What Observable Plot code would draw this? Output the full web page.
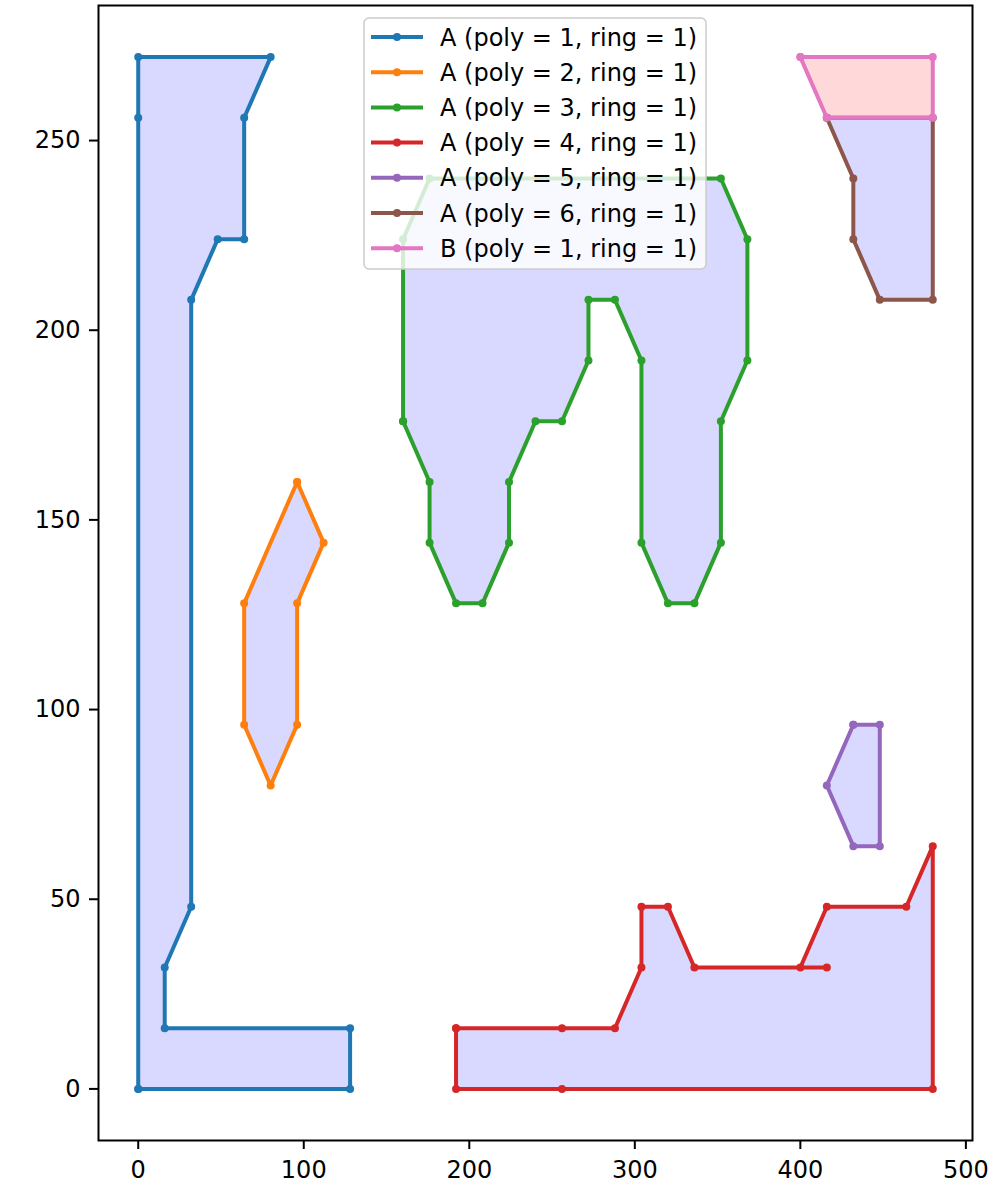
<!DOCTYPE html>
<html><head><meta charset="utf-8">
<script src="https://cdn.jsdelivr.net/npm/d3@7"></script>
<script src="https://cdn.jsdelivr.net/npm/@observablehq/plot@0.6"></script>
<style>
body{margin:0;background:#fff;}
#wrap{position:relative;width:993px;height:1188px;font-family:"DejaVu Sans";}
#legend{position:absolute;left:363px;top:17px;}
</style>
</head><body><div id="wrap"></div>
<script>
// Series labels and colours
const labels = ["A (poly = 1, ring = 1)","A (poly = 2, ring = 1)","A (poly = 3, ring = 1)","A (poly = 4, ring = 1)","A (poly = 5, ring = 1)","A (poly = 6, ring = 1)","B (poly = 1, ring = 1)"];
const groups = ["A","A","A","A","A","A","B"];
const lineColors = ["#1f77b4","#ff7f0e","#2ca02c","#d62728","#9467bd","#8c564b","#e377c2"];
const groupFill = {A: "rgba(0,0,255,0.15)", B: "rgba(255,0,0,0.15)"};

// Ring vertices [x, y]
const ringA1 = [[0,0],[128,0],[128,16],[16,16],[16,32],[32,48],[32,208],[48,224],[64,224],[64,256],[80,272],[0,272],[0,256],[0,0]];
const ringA2 = [[96,160],[112,144],[96,128],[96,96],[80,80],[64,96],[64,128],[96,160]];
const ringA3 = [[160,176],[176,160],[176,144],[192,128],[208,128],[224,144],[224,160],[240,176],[256,176],[272,192],[272,208],[288,208],[304,192],[304,144],[320,128],[336,128],[352,144],[352,176],[368,192],[368,224],[352,240],[176,240],[160,224],[160,176]];
const ringA4 = [[192,16],[256,16],[288,16],[304,32],[304,48],[320,48],[336,32],[416,32],[400,32],[416,48],[464,48],[480,64],[480,0],[256,0],[192,0],[192,16]];
const ringA5 = [[432,96],[448,96],[448,64],[432,64],[416,80],[432,96]];
const ringA6 = [[416,256],[432,240],[432,224],[448,208],[480,208],[480,256],[416,256]];
const ringB1 = [[400,272],[480,272],[480,256],[416,256],[400,272]];
const rings = [ringA1, ringA2, ringA3, ringA4, ringA5, ringA6, ringB1];

const xTicks = [0,100,200,300,400,500];
const yTicks = [0,50,100,150,200,250];

const marks = [];
rings.forEach((pts, i) => {
  marks.push(Plot.line(pts, {x: d => d[0], y: d => d[1], fill: groupFill[groups[i]], stroke: "none"}));
});
rings.forEach((pts, i) => {
  marks.push(Plot.line(pts, {x: d => d[0], y: d => d[1], stroke: lineColors[i], strokeWidth: 4, strokeLinejoin: "round"}));
  marks.push(Plot.dot(pts, {x: d => d[0], y: d => d[1], r: 4, fill: lineColors[i], stroke: "none"}));
});
marks.push(Plot.frame({stroke: "black", strokeWidth: 2}));
marks.push(Plot.axisX(xTicks, {tickSize: 9, tickPadding: 11, strokeWidth: 2, label: null, fontSize: 24}));
marks.push(Plot.axisY(yTicks, {tickSize: 9, tickPadding: 9, strokeWidth: 2, label: null, fontSize: 24}));

const chart = Plot.plot({
  width: 993, height: 1188,
  marginLeft: 98, marginRight: 21, marginTop: 5, marginBottom: 48,
  x: {domain: [-24, 504]},
  y: {domain: [-13.6, 285.6]},
  style: {fontFamily: "DejaVu Sans", fontSize: "24px", color: "black", background: "white"},
  marks
});
const wrap = document.getElementById("wrap");
wrap.appendChild(chart);

// Legend overlay
const lw = 344, lh = 253;
const leg = d3.select(wrap).append("svg").attr("id","legend").attr("width", lw).attr("height", lh);
leg.append("rect").attr("x",1).attr("y",1).attr("width",lw-2).attr("height",lh-2).attr("rx",5)
  .attr("fill","rgba(255,255,255,0.8)").attr("stroke","#cccccc").attr("stroke-width",1.5);
labels.forEach((lab, i) => {
  const cy = 20 + i * 35.2;
  leg.append("line").attr("x1",8).attr("x2",60).attr("y1",cy).attr("y2",cy).attr("stroke",lineColors[i]).attr("stroke-width",4);
  leg.append("circle").attr("cx",34).attr("cy",cy).attr("r",4).attr("fill",lineColors[i]);
  leg.append("text").attr("x",77).attr("y",cy).attr("dy","0.36em").attr("font-size",24).attr("font-family","DejaVu Sans").attr("fill","black").text(lab);
});
</script>
</body></html>
